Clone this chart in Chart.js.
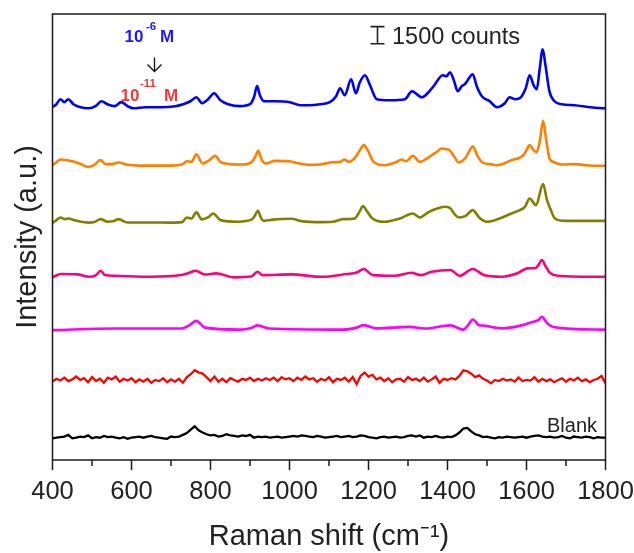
<!DOCTYPE html>
<html><head><meta charset="utf-8">
<script src="https://cdn.jsdelivr.net/npm/chart.js@4"></script>
<style>html,body{margin:0;padding:0;background:#fff}canvas{display:block}</style>
</head><body>
<canvas id="c" width="634" height="553"></canvas>
<script>
// ---------- data (Raman shift in cm-1, intensity in counts above each trace's baseline) ----------
const xTickValues = [400, 600, 800, 1000, 1200, 1400, 1600, 1800];
const seriesLabels = ['1e-6 M', '1e-7 M', '1e-8 M', '1e-9 M', '1e-10 M', '1e-11 M', 'Blank'];
const seriesColors = ['#0000ff', '#ff8000', '#808000', '#ff0080', '#ff00ff', '#ff0000', '#000000'];
const baselines = [30850, 25780, 20800, 16040, 11400, 7000, 1950];

const blue = [[400,0],[410,260],[420,700],[430,440],[440,700],[453,260],[471,0],[491,-90],[509,90],[524,520],[539,260],[557,90],[574,440],[590,90],[605,-90],[635,0],[673,0],[711,90],[731,260],[749,520],[764,870],[779,350],[794,700],[809,1220],[825,610],[845,260],[875,90],[900,260],[910,870],[918,1840],[925,1050],[936,520],[963,520],[1001,440],[1027,175],[1052,175],[1077,260],[1102,440],[1118,960],[1128,1660],[1140,1050],[1156,2450],[1168,1220],[1178,2180],[1191,2800],[1203,2000],[1221,700],[1254,610],[1292,700],[1310,1400],[1335,870],[1363,1750],[1388,2800],[1398,2710],[1406,3060],[1416,2360],[1426,1400],[1436,1840],[1444,2010],[1451,2360],[1464,2880],[1474,1840],[1487,960],[1507,520],[1525,0],[1545,350],[1557,870],[1570,700],[1583,790],[1598,1660],[1608,2800],[1618,1920],[1626,1570],[1633,3230],[1641,5070],[1648,3670],[1658,1400],[1671,520],[1689,260],[1722,175],[1760,0],[1797,-90],[1800,-90]];

const orange = [[400,0],[410,260],[420,500],[435,440],[450,350],[470,130],[490,-150],[505,0],[521,440],[535,90],[550,90],[567,240],[590,30],[620,-40],[660,-40],[700,-40],[730,90],[740,350],[752,300],[764,960],[780,150],[797,440],[812,810],[826,260],[850,90],[880,60],[905,290],[913,700],[921,1250],[930,440],[940,150],[963,380],[1000,350],[1025,150],[1050,30],[1077,60],[1110,260],[1128,290],[1140,500],[1150,290],[1165,610],[1178,1310],[1188,1750],[1198,1310],[1213,290],[1240,0],[1270,260],[1284,500],[1295,350],[1312,810],[1330,290],[1345,520],[1360,870],[1375,1220],[1385,1460],[1397,1400],[1405,1310],[1415,870],[1428,240],[1445,610],[1455,1220],[1464,1660],[1475,870],[1490,200],[1510,90],[1525,0],[1545,175],[1562,440],[1580,610],[1592,870],[1600,1310],[1608,1750],[1618,1310],[1626,1160],[1634,2180],[1642,3850],[1650,2180],[1658,610],[1670,260],[1690,60],[1722,90],[1760,-30],[1800,-60]];

const olive = [[400,-60],[410,175],[420,410],[432,260],[440,320],[455,175],[472,30],[490,-40],[508,40],[521,260],[540,30],[555,90],[567,260],[590,-30],[640,-30],[700,-40],[728,0],[740,410],[752,320],[764,850],[778,240],[795,440],[807,760],[825,175],[870,40],[905,240],[913,610],[920,990],[928,350],[935,110],[963,240],[1005,290],[1030,90],[1080,0],[1110,30],[1135,260],[1165,320],[1178,960],[1186,1400],[1196,960],[1210,320],[1240,30],[1280,320],[1312,760],[1330,410],[1350,830],[1370,1140],[1393,1340],[1405,1270],[1420,610],[1430,410],[1445,520],[1464,1050],[1480,410],[1500,30],[1530,290],[1562,760],[1583,1050],[1596,1340],[1608,2070],[1624,1490],[1642,3320],[1652,1920],[1660,1200],[1672,320],[1700,110],[1800,110]];

const pink = [[400,-70],[421,220],[463,190],[491,-20],[510,130],[522,510],[533,130],[557,70],[650,-20],[725,130],[745,310],[762,510],[786,175],[814,280],[860,-70],[903,0],[919,420],[931,130],[1005,190],[1080,-20],[1145,220],[1170,350],[1188,660],[1211,130],[1267,70],[1309,330],[1332,130],[1360,420],[1407,570],[1431,70],[1464,660],[1492,130],[1538,-20],[1575,260],[1603,720],[1622,740],[1630,1000],[1639,1440],[1648,920],[1660,310],[1679,70],[1795,-20],[1800,-20]];

const magenta = [[400,-40],[557,100],[725,100],[745,350],[764,770],[786,175],[875,0],[905,175],[919,370],[949,100],[1136,0],[1170,175],[1188,390],[1220,110],[1305,240],[1342,100],[1407,370],[1440,0],[1452,390],[1464,890],[1480,390],[1492,350],[1538,110],[1585,350],[1622,740],[1630,830],[1639,1120],[1650,660],[1660,350],[1697,110],[1800,0]];

// noisy traces sampled every 10 cm-1 from 400 to 1800
const noiseStart = 400;
const noiseStep = 10;
const redNoise = [
  -150, 100, -50, 200, -100, 50, 300, 0, 150, -200,
  250, -100, 100, -250, 200, 50, 300, -150, 100, -50,
  150, -200, 50, -150, 100, -250, 0, -100, 150, -200,
  50, -150, 100, -250, 250, 500, 850, 650, 550, 250,
  -100, 300, -150, 100, -200, 150, 0, -150, 100, 0,
  200, -100, 100, -50, 150, 0, 200, -100, 250, 50,
  150, -100, 200, 0, 300, 50, 150, -150, 100, -50,
  250, -200, 100, 0, 200, -150, 250, -350, 350, 650,
  300, 450, 50, 200, -100, 150, -200, 50, 100, -150,
  250, 0, 100, -100, 200, -150, 50, 300, -250, 100,
  0, 150, 50, 350, 850, 750, 550, 250, 400, 100,
  -50, -300, 0, -100, 100, -50, 50, -150, 200, -100,
  0, -50, 250, -150, 100, -100, 50, -200, 0, 150,
  -150, 100, -50, 200, -100, 50, -200, 0, 100, 350,
  -300];
const blackNoise = [
  -50, 0, 50, 100, 250, -50, 0, 100, 50, 200,
  -50, 50, 0, 150, 50, 100, 0, -50, 50, -100,
  0, 50, 100, 0, 100, 150, 50, 0, -50, -100,
  100, 50, 100, 250, 400, 700, 1000, 650, 450, 300,
  200, 250, 100, 150, 300, 200, 150, 100, 200, 150,
  250, 0, 100, 50, 100, 0, 50, 100, 0, 50,
  100, 150, 100, 200, 150, 100, 50, 150, 100, 0,
  50, 100, 150, 50, 100, 150, 50, 100, 200, 150,
  50, 0, -50, 50, 100, 0, 50, 100, 0, 50,
  150, 200, 100, 200, 0, 100, 50, 150, 50, 0,
  100, 50, 200, 450, 800, 850, 550, 300, 200, 50,
  100, 0, -50, 50, 0, 100, 50, 0, 50, 100,
  0, 100, 150, 200, 100, 50, 100, 0, 50, 150,
  0, -50, 100, 50, 0, 100, 50, -50, 50, 0,
  0];

const scaleBarCounts = 1500;
const scaleBarBase = 36400;

// ---------- build datasets ----------
const FONT = "'Liberation Sans', Arial, Helvetica, sans-serif";
function fromPairs(arr, off) { return arr.map(p => ({x: p[0], y: p[1] + off})); }
function fromGrid(arr, off) { return arr.map((v, i) => ({x: noiseStart + i * noiseStep, y: v + off})); }
const smooth = [blue, orange, olive, pink, magenta];
const datasets = [];
smooth.forEach((arr, i) => datasets.push({
  label: seriesLabels[i], data: fromPairs(arr, baselines[i]),
  borderColor: seriesColors[i], borderWidth: 2.6, pointRadius: 0,
  cubicInterpolationMode: 'monotone', fill: false
}));
[redNoise, blackNoise].forEach((arr, j) => {
  const i = 5 + j;
  datasets.push({
    label: seriesLabels[i], data: fromGrid(arr, baselines[i]),
    borderColor: seriesColors[i], borderWidth: 2.3, pointRadius: 0,
    tension: 0, fill: false
  });
});

const decor = {
  id: 'decor',
  afterDatasetsDraw(chart) {
    const {ctx, chartArea: a, scales} = chart;
    const xs = scales.x, ys = scales.y;
    ctx.save();
    // frame
    ctx.strokeStyle = '#1a1a1a';
    ctx.lineWidth = 1.5;
    ctx.strokeRect(a.left, a.top, a.right - a.left, a.bottom - a.top);
    // minor ticks
    xs.ticks.forEach(t => {
      if (t.value % 200 !== 0) {
        const px = xs.getPixelForValue(t.value);
        ctx.beginPath(); ctx.moveTo(px, a.bottom); ctx.lineTo(px, a.bottom + 6); ctx.stroke();
      }
    });
    // scale bar
    const bx = 377.5;
    const yb = ys.getPixelForValue(scaleBarBase), yt = ys.getPixelForValue(scaleBarBase + scaleBarCounts);
    ctx.strokeStyle = '#222'; ctx.lineWidth = 1.6;
    ctx.beginPath();
    ctx.moveTo(bx - 7, yt); ctx.lineTo(bx + 7, yt);
    ctx.moveTo(bx, yt); ctx.lineTo(bx, yb);
    ctx.moveTo(bx - 7, yb); ctx.lineTo(bx + 7, yb);
    ctx.stroke();
    ctx.fillStyle = '#222';
    ctx.textBaseline = 'alphabetic';
    ctx.textAlign = 'left';
    ctx.font = '23.5px ' + FONT;
    ctx.fillText('1500 counts', 392, 44);
    // Blank label
    ctx.font = '20px ' + FONT;
    ctx.textAlign = 'right';
    ctx.fillText('Blank', 597, 432);
    // concentration labels
    ctx.textAlign = 'left';
    ctx.fillStyle = '#1a1aff';
    ctx.font = 'bold 17px ' + FONT;
    ctx.fillText('10', 124.5, 42);
    ctx.fillText('M', 160, 42);
    ctx.font = 'bold 11.5px ' + FONT;
    ctx.fillText('-6', 146, 30);
    ctx.fillStyle = '#f03838';
    ctx.font = 'bold 17px ' + FONT;
    ctx.fillText('10', 120.5, 100.5);
    ctx.fillText('M', 164, 100.5);
    ctx.font = 'bold 11.5px ' + FONT;
    ctx.fillText('-11', 140, 87);
    // arrow
    ctx.strokeStyle = '#111'; ctx.lineWidth = 1.3;
    ctx.beginPath();
    ctx.moveTo(154.5, 57.5); ctx.lineTo(154.5, 71.5);
    ctx.moveTo(147.5, 64.5); ctx.lineTo(154.5, 71.5); ctx.lineTo(161.5, 64.5);
    ctx.stroke();
    ctx.restore();
  }
};

new Chart(document.getElementById('c'), {
  type: 'line',
  data: {datasets},
  options: {
    responsive: false, animation: false, devicePixelRatio: 1,
    layout: {padding: {top: 14, right: 28.5, left: 0, bottom: 0}},
    plugins: {legend: {display: false}, tooltip: {enabled: false}},
    scales: {
      x: {
        type: 'linear', min: 400, max: 1800,
        afterFit(s) { s.height = 93; s.paddingLeft = 0; s.paddingRight = 0; },
        ticks: {
          stepSize: 100, autoSkip: false, maxRotation: 0, padding: 7,
          color: '#222', font: {family: FONT, size: 25.5},
          callback: v => (xTickValues.includes(v) ? String(v) : '')
        },
        grid: {
          drawOnChartArea: false, drawTicks: true, tickLength: 10, tickWidth: 1.5,
          tickColor: c => (c.tick && c.tick.value % 200 === 0 ? '#1a1a1a' : 'rgba(0,0,0,0)')
        },
        border: {display: false},
        title: {display: true, text: 'Raman shift (cm⁻¹)', color: '#222',
          font: {family: FONT, size: 29}, padding: {top: 0, bottom: -1}}
      },
      y: {
        type: 'linear', min: 0, max: 39000,
        afterFit(s) { s.width = 52.5; },
        ticks: {display: false},
        grid: {display: false},
        border: {display: false},
        title: {display: true, text: 'Intensity (a.u.)', color: '#222',
          font: {family: FONT, size: 29}, padding: {top: 11, bottom: 0}}
      }
    }
  },
  plugins: [decor]
});
</script>
</body></html>
